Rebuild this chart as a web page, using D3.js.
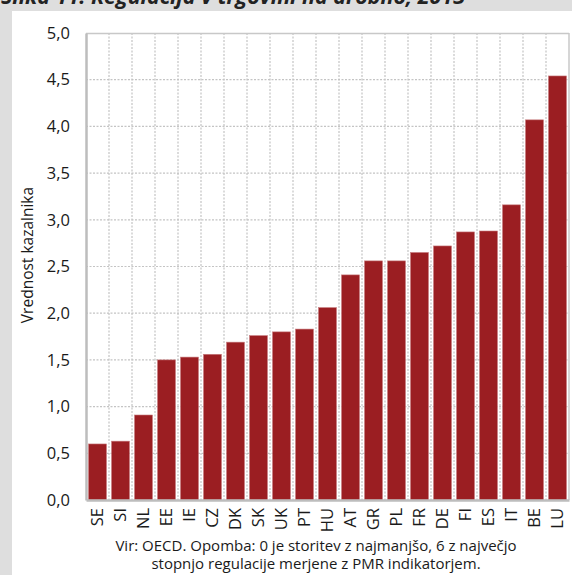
<!DOCTYPE html>
<html>
<head>
<meta charset="utf-8">
<script src="https://cdn.jsdelivr.net/npm/d3@7"></script>
<style>
  html, body { margin: 0; padding: 0; background: #dedede; }
  svg { display: block; }
  text { font-family: "Open Sans", "Noto Sans", sans-serif; fill: #1a1a1a; }
</style>
</head>
<body>
<svg id="chart" width="572" height="575"></svg>
<script>
const categories = ["SE","SI","NL","EE","IE","CZ","DK","SK","UK","PT","HU","AT","GR","PL","FR","DE","FI","ES","IT","BE","LU"];
const values = [0.60,0.63,0.91,1.50,1.53,1.56,1.69,1.76,1.80,1.83,2.06,2.41,2.56,2.56,2.65,2.72,2.87,2.88,3.16,4.07,4.54];
const yTicks = [0,0.5,1,1.5,2,2.5,3,3.5,4,4.5,5];
const titleText = "Slika 11: Regulacija v trgovini na drobno, 2013";
const yLabel = "Vrednost kazalnika";
const noteLines = ["Vir: OECD. Opomba: 0 je storitev z najmanjšo, 6 z največjo",
                   "stopnjo regulacije merjene z PMR indikatorjem."];

const svg = d3.select("#chart");
const W = 572, H = 575;
const m = {left: 86, right: 3, top: 33, bottom: 75};

svg.append("rect").attr("x",0).attr("y",0).attr("width",W).attr("height",H).attr("fill","#dedede");
svg.append("rect").attr("x",12).attr("y",11).attr("width",W-12).attr("height",H-11).attr("fill","#ffffff");

svg.append("text").attr("x",1).attr("y",4)
  .attr("font-size",21).attr("font-weight","bold").attr("font-style","italic")
  .attr("textLength",464).attr("lengthAdjust","spacingAndGlyphs")
  .style("fill","#222")
  .text(titleText);

const x = d3.scaleBand().domain(categories).range([m.left, W - m.right]).paddingInner(0.22).paddingOuter(0.11);
const y = d3.scaleLinear().domain([0,5]).range([H - m.bottom, m.top]);

const fmt = v => d3.format(".1f")(v).replace(".", ",");

// horizontal gridlines
svg.append("g").selectAll("line").data(yTicks.filter(t => t > 0 && t < 5)).join("line")
  .attr("x1", m.left).attr("x2", W - m.right)
  .attr("y1", d => y(d)).attr("y2", d => y(d))
  .attr("stroke","#c4c4c4").attr("stroke-width",1.2).attr("stroke-dasharray","2,1.5");

// vertical gridlines between categories
const bounds = categories.slice(1).map((c,i) => m.left + (i+1) * (W - m.right - m.left) / categories.length);
svg.append("g").selectAll("line").data(bounds).join("line")
  .attr("x1", d => d).attr("x2", d => d)
  .attr("y1", m.top).attr("y2", H - m.bottom)
  .attr("stroke","#c4c4c4").attr("stroke-width",1.2).attr("stroke-dasharray","2,1.5");

// frame top/right
svg.append("line").attr("x1",m.left).attr("x2",W-m.right).attr("y1",m.top+0.5).attr("y2",m.top+0.5).attr("stroke","#c8c8c8").attr("stroke-width",1.5);
svg.append("line").attr("x1",W-m.right).attr("x2",W-m.right).attr("y1",m.top).attr("y2",H-m.bottom).attr("stroke","#c8c8c8").attr("stroke-width",1.5);

// bars
svg.append("g").selectAll("rect").data(values).join("rect")
  .attr("x", (d,i) => x(categories[i]))
  .attr("width", x.bandwidth())
  .attr("y", d => y(d))
  .attr("height", d => y(0) - y(d))
  .attr("fill","#9b1e22")
  .attr("stroke","#c77a7c").attr("stroke-width",0.6);

// y axis
const yAxis = d3.axisLeft(y).tickValues(yTicks).tickFormat(fmt).tickSize(0).tickPadding(16);
const gy = svg.append("g").attr("transform",`translate(${m.left},0)`).call(yAxis);
gy.select(".domain").attr("stroke","#bdbdbd").attr("stroke-width",2.5);
gy.selectAll("text").attr("font-size",16.5).style("font-family","'Open Sans', sans-serif").attr("fill","#1a1a1a");

// x axis
const xAxis = d3.axisBottom(x).tickSize(0).tickPadding(0);
const gx = svg.append("g").attr("transform",`translate(0,${H - m.bottom})`).call(xAxis);
gx.select(".domain").attr("stroke","#bdbdbd").attr("stroke-width",2.5);
gx.selectAll("text")
  .attr("font-size",16.5)
  .attr("transform","rotate(-90)")
  .attr("text-anchor","end")
  .attr("x",-8).attr("y",0).attr("dy","0.35em")
  .attr("fill","#1a1a1a");

// y label
svg.append("text")
  .attr("transform",`translate(33,255) rotate(-90)`)
  .attr("text-anchor","middle").attr("font-size",15.5)
  .text(yLabel);

// note
svg.append("g").selectAll("text").data(noteLines).join("text")
  .attr("x",316).attr("y",(d,i) => 551 + i*18)
  .attr("text-anchor","middle").attr("font-size",15)
  .text(d => d);
</script>
</body>
</html>
